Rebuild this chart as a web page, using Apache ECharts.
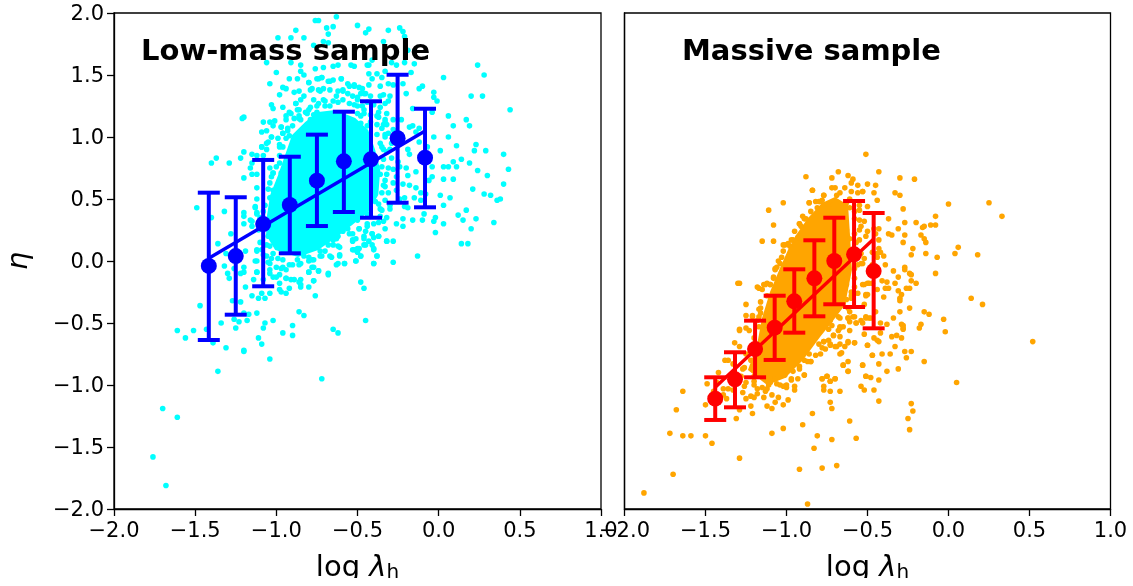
<!DOCTYPE html>
<html><head><meta charset="utf-8">
<script src="https://cdn.jsdelivr.net/npm/echarts@6/dist/echarts.min.js"></script>
<style>html,body{margin:0;padding:0;background:#fff}#c{width:1133px;height:578px}</style></head>
<body><div id="c"></div>
<script>
const lowMassPoints=[[-0.76,1.94],[-0.74,1.94],[-0.63,1.97],[-0.69,1.88],[-0.65,1.89],[-0.68,1.83],[-0.5,1.9],[-0.43,1.87],[-0.45,1.84],[-0.88,1.86],[-0.99,1.8],[-0.91,1.8],[-0.83,1.8],[-0.77,1.74],[-0.71,1.77],[-0.68,1.76],[-1.06,1.6],[-0.91,1.6],[-0.85,1.58],[-0.85,1.53],[-1,1.52],[-0.76,1.55],[-0.71,1.56],[-0.65,1.57],[-0.62,1.58],[-0.54,1.58],[-0.52,1.57],[-0.43,1.58],[-0.83,1.5],[-0.92,1.47],[-0.87,1.47],[-0.75,1.47],[-0.72,1.48],[-0.6,1.47],[-1.04,1.43],[-0.8,1.44],[-0.96,1.4],[-0.94,1.39],[-0.98,1.34],[-0.89,1.36],[-0.86,1.37],[-1.03,1.26],[-1.02,1.23],[-0.96,1.24],[-0.88,1.27],[-0.87,1.22],[-1.21,1.15],[-1.2,1.16],[-1.08,1.12],[-1.04,1.12],[-1.01,1.13],[-1.02,1.09],[-1.09,1.04],[-1.06,1.05],[-1.03,1],[-1.09,0.92],[-1.05,0.96],[-1.06,0.9],[-1.2,0.88],[-1.22,0.83],[-1.15,0.86],[-1.12,0.85],[-1.08,0.85],[-1.37,0.83],[-1.4,0.79],[-1.29,0.79],[-1.15,0.79],[-1.16,0.75],[-1.15,0.7],[-1.12,0.7],[-1.2,0.67],[-1.04,0.75],[-1.02,0.71],[-0.98,0.79],[-0.97,0.71],[-0.95,0.74],[-0.97,1.08],[-0.94,1.17],[-0.91,1.19],[-0.86,1.15],[-0.96,1.03],[-0.92,1.01],[-0.98,0.94],[-0.94,0.99],[-0.8,1.22],[-0.77,1.3],[-0.73,1.37],[-0.67,1.45],[-0.79,1.38],[-0.75,1.25],[-0.71,1.3],[-0.63,1.33],[-0.59,1.38],[-0.55,1.41],[-0.49,1.4],[-0.46,1.35],[-0.53,1.33],[-0.67,1.25],[-0.71,1.18],[-0.79,1.14],[-0.77,1.07],[-0.5,1.25],[-0.48,1.17],[-0.44,1.09],[-0.51,1.06],[-0.55,1.11],[-0.69,1.08],[-0.63,1.04],[-0.55,1],[-0.81,0.98],[-0.86,0.91],[-0.31,1.86],[-0.24,1.88],[-0.22,1.85],[-0.21,1.81],[-0.34,1.77],[-0.19,1.7],[-0.41,1.62],[-0.29,1.6],[-0.26,1.58],[-0.21,1.6],[-0.15,1.59],[-0.44,1.58],[-0.33,1.53],[0.24,1.58],[0.28,1.5],[0.03,1.48],[-0.17,1.52],[-0.43,1.51],[-0.38,1.51],[-0.41,1.47],[-0.35,1.48],[-0.31,1.43],[-0.28,1.42],[-0.43,1.42],[-0.36,1.41],[-0.22,1.43],[-0.12,1.39],[-0.1,1.41],[-0.2,1.35],[-0.03,1.36],[-0.03,1.32],[-0.01,1.29],[0.2,1.33],[0.27,1.33],[0.44,1.22],[-0.34,1.34],[-0.3,1.33],[-0.04,1.2],[-0.16,1.23],[0.06,1.17],[0.17,1.14],[0.19,1.09],[0.09,1.09],[-0.03,1],[0.06,1],[0.11,0.93],[0.23,0.94],[0.22,0.89],[0.29,0.89],[0.01,0.89],[0.4,0.86],[0.14,0.82],[0.09,0.8],[0.19,0.79],[0.03,0.76],[0.06,0.76],[0.11,0.76],[0.24,0.73],[0.43,0.74],[0.3,0.69],[-0.04,0.76],[-0.14,0.72],[-0.2,0.75],[-0.19,0.69],[-0.04,0.68],[0.03,0.66],[0.09,0.66],[-0.18,0.86],[-0.19,0.9],[-0.12,0.96],[-0.07,0.92],[-0.12,1.07],[-0.16,1.09],[-0.18,1.08],[-0.14,1.04],[-0.23,1.14],[-0.28,1.06],[-0.33,1.02],[-0.35,0.92],[-0.32,0.88],[-0.29,0.83],[-0.28,0.74],[-0.24,0.76],[-0.32,1.1],[-0.37,1.2],[-0.32,1.19],[-0.42,1.18],[-0.48,1.11],[-0.46,1.22],[-0.5,1.3],[-0.48,1.35],[-0.52,1.41],[-0.47,1.39],[-0.42,1.33],[-0.38,1.1],[-0.34,1.1],[-0.38,1.17],[-0.5,1.03],[-0.48,0.92],[-0.35,0.76],[0.4,0.62],[-0.06,0.65],[-0.14,0.59],[-0.18,0.61],[0.21,0.58],[0.28,0.54],[0.32,0.53],[0.36,0.49],[0.38,0.5],[0.01,0.53],[0.07,0.51],[-0.08,0.54],[-0.11,0.55],[-0.15,0.51],[-0.21,0.51],[-0.11,0.49],[0.03,0.45],[0.17,0.41],[0.12,0.37],[0.23,0.34],[0.15,0.33],[0.34,0.31],[0.03,0.3],[0.2,0.26],[-0.02,0.35],[-0.03,0.32],[-0.02,0.23],[0.14,0.14],[0.18,0.14],[-0.16,0.33],[-0.1,0.33],[-0.09,0.38],[-0.22,0.34],[-0.26,0.3],[-0.22,0.28],[-0.33,0.26],[-0.32,0.35],[-0.34,0.32],[-0.37,0.31],[-0.4,0.3],[-0.44,0.28],[-0.45,0.24],[-0.41,0.22],[-0.37,0.2],[-0.4,0.19],[-0.32,0.16],[-0.28,0.16],[-0.49,0.26],[-0.53,0.22],[-0.51,0.18],[-0.53,0.16],[-0.46,0.18],[-0.43,0.16],[-0.41,0.13],[-0.46,0.13],[-0.49,0.1],[-0.52,0.09],[-0.5,0.07],[-0.4,0.09],[-0.48,0.04],[-0.51,0],[-0.38,0.04],[-0.4,-0.02],[-0.28,-0.01],[-0.13,0.04],[-0.48,-0.17],[-0.46,-0.22],[-0.45,-0.48],[-0.35,0.41],[-0.3,0.42],[-0.19,0.43],[-0.21,0.44],[-0.26,0.57],[-0.28,0.63],[-0.34,0.61],[-0.31,0.55],[-0.33,0.49],[-0.39,0.48],[-0.48,0.44],[-0.44,0.38],[-1.12,0.59],[-1.49,0.43],[-1.4,0.35],[-1.32,0.4],[-1.2,0.39],[-1.2,0.36],[-1.2,0.3],[-1.12,0.5],[-1.13,0.43],[-1.12,0.39],[-1.16,0.33],[-1.15,0.28],[-1.11,0.25],[-1.28,0.22],[-1.36,0.14],[-1.19,0.08],[-1.31,0.06],[-1.12,0.08],[-1.09,0.09],[-1.13,0],[-1.32,-0.04],[-1.26,-0.06],[-1.2,-0.05],[-1.2,-0.09],[-1.3,-0.1],[-1.29,-0.14],[-1.22,-0.1],[-1.12,-0.09],[-1.14,-0.15],[-1.08,-0.15],[-1.19,-0.21],[-1.15,-0.28],[-1.11,-0.3],[-1.07,-0.3],[-1.09,-0.26],[-1.04,-0.26],[-1.27,-0.32],[-1.22,-0.33],[-1.47,-0.36],[-1.17,-0.43],[-1.12,-0.42],[-1.2,-0.42],[-1.26,-0.47],[-1.23,-0.49],[-1.18,-0.48],[-1.34,-0.5],[-1.25,-0.54],[-1.07,-0.5],[-1.08,-0.54],[-1.02,-0.48],[-0.9,-0.52],[-0.86,-0.41],[-0.83,-0.44],[-0.65,-0.55],[-0.62,-0.58],[-0.96,-0.58],[-0.9,-0.6],[-1.11,-0.62],[-1.09,-0.67],[-1.61,-0.56],[-1.56,-0.62],[-1.51,-0.56],[-1.43,-0.55],[-1.39,-0.66],[-1.31,-0.7],[-1.2,-0.72],[-0.98,-0.23],[-0.97,-0.25],[-0.94,-0.26],[-0.92,-0.22],[-0.86,-0.17],[-0.85,-0.19],[-0.85,-0.21],[-0.8,-0.21],[-0.76,-0.28],[-0.77,-0.16],[-0.68,-0.1],[-0.74,-0.08],[-0.8,-0.09],[-0.78,-0.05],[-0.8,0],[-0.77,0.01],[-0.86,-0.03],[-0.73,0.04],[-0.7,0.08],[-0.66,0.03],[-0.61,0.04],[-0.63,-0.03],[-0.58,-0.02],[-0.61,0.11],[-0.53,0.09],[-0.65,0.13],[-0.71,0.17],[-0.63,0.18],[-0.59,0.24],[-0.53,0.17],[-0.67,0.25],[-1.04,-0.07],[-1,-0.05],[-0.97,-0.06],[-0.94,-0.07],[-1.02,-0.13],[-0.98,-0.11],[-0.94,-0.14],[-0.89,-0.15],[-1.05,-0.01],[-0.96,0.01],[-0.9,-0.03],[-1.02,0.06],[-1.06,0.13],[-1.05,0.2],[-1.02,0.24],[-1.04,0.63],[-1.02,0.57],[-1.04,0.51],[-1.01,0.44],[-0.98,0.65],[-1.02,0.71],[-1.7,-1.19],[-1.61,-1.26],[-1.76,-1.58],[-1.68,-1.81],[-1.36,-0.89],[-0.72,-0.95],[-1.04,-0.79],[-1.2,-0.73],
[-0.83,1.33],[-0.85,1.3],[-0.8,1.44],[-0.78,1.39],[-0.74,1.47],[-0.72,1.48],[-0.74,1.38],[-0.71,1.39],[-0.68,1.45],[-0.65,1.46],[-0.6,1.47],[-0.56,1.43],[-0.52,1.42],[-0.67,1.38],[-0.62,1.37],[-0.59,1.37],[-0.56,1.35],[-0.5,1.32],[-0.45,1.35],[-0.88,1.27],[-0.86,1.22],[-0.92,1.2],[-0.79,1.24],[-0.74,1.27],[-0.7,1.29],[-0.65,1.29],[-0.59,1.3],[-0.52,1.26],[-0.81,1.19],[-0.77,1.18],[-0.89,1.15],[-0.94,1.14],[-0.85,1.14],[-0.97,1.08],[-0.96,1.03],[-0.99,0.99],[-0.93,1.07],[-1.03,1],[-1.06,0.95],[-1.09,0.92],[-0.98,0.92],[-0.5,1.19],[-0.46,1.19],[-0.36,1.24],[-0.33,1.27],[-0.37,1.16],[-0.33,1.14],[-0.35,1.07],[-0.31,1.03],[-0.59,0.25],[-0.55,0.22],[-0.49,0.26],[-0.44,0.3],[-0.46,0.2],[-0.41,0.22],[-0.37,0.2],[-0.32,0.16],[-0.4,0.1],[-0.45,0.13],[-0.5,0.1],[-0.48,0.04],[-0.38,0.04],[-0.4,-0.02],[-0.51,0],[-0.58,-0.02],[-0.62,-0.02],[-0.61,0.05],[-0.62,0.12],[-0.65,0.17],[-0.7,0.18],[-0.72,0.04],[-0.67,0.04],[-0.78,0.01],[-0.77,-0.05],[-0.8,-0.09],[-0.74,-0.08],[-0.68,-0.11],[-0.77,-0.16],[-0.85,-0.15],[-0.96,-0.05],[-1,-0.13],[-1.04,-0.02],[-0.94,-0.14],[-0.91,-0.15],[-0.87,0.01],[-0.83,0.04],[-1.13,0.44],[-1.12,0.38],[-1.15,0.32],[-1.12,0.09],[-1.12,0],[-1.12,-0.09],[-1.04,0.12],[-1.02,0.22],[-1.06,0.04],[-1.04,-0.1],[-0.98,-0.18],[-0.35,0.55],[-0.33,0.65],[-0.36,0.7],[-0.31,0.75],[-0.34,0.82],[-0.3,0.9],[-0.36,0.95],[-0.33,1],[-0.29,0.95],[-0.27,1],[-0.25,0.8],[-0.26,0.68],[-0.22,0.62],[-0.24,0.5],[-0.3,0.45],[-0.36,0.42],[-0.36,0.36],[-0.33,1.12],[-0.28,1.14],[-0.36,1.33],[-0.31,1.29],[-0.4,1.26],[-0.44,1.28],
[-1.08,0.4],[-1.1,0.35],[-1.09,0.3],[-1.07,0.45],[-1.05,0.58],[-1.03,0.68],[-1,0.76],[-0.98,0.85],[-0.96,0.92],[-0.93,1.05],[-0.9,1.09],[-0.86,1.17],[-0.82,1.2],[-1.1,0.15],[-1.08,0.05],[-1.03,0.02],[-0.99,0.02],[-0.92,-0.03],[-0.85,-0.02],[-0.8,0.03],[-0.73,0.08],[-0.68,0.13],[-0.62,0.2],[-0.56,0.26],[-0.5,0.33],[-0.42,0.36],[-0.37,0.46],[-0.33,0.6],[-0.32,0.7],[-0.34,0.9],[-0.38,1.02],[-0.42,1.12],[-0.47,1.25],[-0.55,1.27],[-0.62,1.28],[-0.7,1.25],[-0.75,1.2]];
const massivePoints=[[-0.51,0.86],[-0.88,0.68],[-0.68,0.72],[-0.72,0.67],[-0.62,0.69],[-0.59,0.66],[-0.6,0.63],[-0.56,0.61],[-0.5,0.62],[-0.72,0.59],[-0.7,0.59],[-0.64,0.59],[-0.6,0.56],[-0.67,0.55],[-0.84,0.57],[-0.77,0.53],[-0.56,0.55],[-0.53,0.56],[-0.78,0.49],[-0.82,0.48],[-0.86,0.47],[-1.02,0.47],[-1.11,0.41],[-1.08,0.29],[-1.15,0.16],[-1.08,0.16],[-0.92,0.3],[-0.91,0.28],[-0.88,0.34],[-0.81,0.43],[-0.74,0.45],[-0.71,0.45],[-0.63,0.47],[-0.55,0.45],[-0.55,0.33],[-0.52,0.32],[-0.55,0.25],[-0.63,0.25],[-0.61,0.18],[-0.51,0.2],[-0.54,0.06],[-0.54,-0.02],[-0.5,-0.18],[-0.52,-0.19],[-0.63,-0.09],[-0.66,-0.14],[-0.63,-0.15],[-0.63,-0.19],[-0.6,-0.25],[-0.56,-0.26],[-0.51,-0.27],[-0.63,-0.31],[-0.59,-0.45],[-0.62,-0.46],[-0.57,-0.5],[-0.51,-0.45],[-0.49,-0.46],[-0.54,-0.48],[-0.71,-0.42],[-0.68,-0.45],[-0.67,-0.53],[-0.73,-0.48],[-0.72,-0.52],[-1.02,0.13],[-0.98,0.12],[-0.96,0.17],[-0.93,0.19],[-1.04,-0.02],[-1.07,-0.06],[-1.08,-0.13],[-1.1,-0.19],[-1.14,-0.19],[-1.18,-0.21],[-1.15,-0.23],[-1.3,-0.18],[-1.25,-0.35],[-1.16,-0.33],[-1.17,-0.39],[-1.25,-0.44],[-1.21,-0.45],[-1.17,-0.45],[-1.29,-0.55],[-1.25,-0.54],[-1.29,-0.56],[-1.32,-0.66],[-1.29,-0.69],[-1.38,-0.8],[-1.36,-0.8],[-1.33,-0.83],[-1.42,-0.9],[-1.49,-0.99],[-1.64,-1.05],[-1.5,-1.16],[-1.68,-1.2],[-1.39,-1.03],[-1.36,-1.03],[-1.39,-1.08],[-1.37,-1.11],[-1.26,-1.01],[-1.25,-1.11],[-1.22,-1.09],[-1.2,-1.1],[-1.22,-1.17],[-1.21,-1.23],[-1.31,-1.27],[-1.29,-1.2],[-1.72,-1.39],[-1.64,-1.41],[-1.59,-1.41],[-1.5,-1.41],[-1.46,-1.47],[-1.29,-1.59],[-1.7,-1.72],[-1.88,-1.87],[-0.87,-1.96],[-0.92,-1.68],[-0.78,-1.67],[-0.69,-1.65],[-0.83,-1.51],[-0.72,-1.44],[-0.81,-1.41],[-0.57,-1.43],[-1.09,-1.39],[-1.02,-1.35],[-0.9,-1.32],[-0.61,-1.29],[-0.84,-1.23],[-0.72,-1.19],[-0.73,-1.14],[-1.12,-1.17],[-1.09,-1.19],[-1.02,-1.16],[-1.07,-1.14],[-1.05,-1.1],[-0.99,-1.12],[-1.14,-1.1],[-1.09,-1.08],[-1.18,-1.03],[-1.11,-1],[-1.06,-0.99],[-1.02,-1.01],[-1,-1.02],[-0.95,-1.04],[-1.07,-0.95],[-1.01,-0.92],[-0.97,-0.95],[-0.93,-0.95],[-0.89,-0.92],[-0.96,-0.89],[-0.78,-0.95],[-0.75,-0.93],[-0.73,-0.97],[-0.7,-0.95],[-0.77,-1.01],[-0.77,-1.04],[-0.73,-1.05],[-0.67,-1.05],[-0.54,-1.01],[-0.52,-1.04],[-0.46,-1.04],[-0.43,-1.13],[-0.51,-0.93],[-0.48,-0.94],[-0.38,-0.89],[-0.31,-0.87],[-0.62,-0.89],[-0.65,-0.84],[-0.62,-0.81],[-0.53,-0.84],[-0.43,-0.83],[-0.47,-0.76],[-0.41,-0.75],[-0.36,-0.75],[-0.26,-0.78],[-0.27,-0.73],[-0.23,-0.73],[-0.15,-0.81],[-0.33,-0.69],[-0.35,-0.61],[-0.32,-0.6],[-0.29,-0.62],[-0.28,-0.52],[-0.28,-0.55],[-0.17,-0.51],[-0.18,-0.54],[-0.23,-1.15],[-0.22,-1.21],[-0.25,-1.27],[-0.24,-1.36],[-0.42,-0.5],[-0.46,-0.62],[-0.43,-0.65],[-0.5,-0.68],[-0.52,-0.59],[-0.58,-0.66],[-0.62,-0.66],[-0.67,-0.67],[-0.64,-0.69],[-0.7,-0.69],[-0.67,-0.75],[-0.73,-0.67],[-0.77,-0.65],[-0.76,-0.71],[-0.71,-0.6],[-0.67,-0.54],[-0.61,-0.49],[-0.61,-0.56],[-0.79,-0.75],[-0.85,-0.81],[-0.89,-0.8],[-0.92,-0.85],[-0.43,0.72],[-0.3,0.67],[-0.21,0.66],[-0.45,0.61],[-0.53,0.56],[-0.46,0.55],[-0.33,0.55],[-0.3,0.53],[-0.44,0.49],[0,0.46],[0.25,0.47],[0.33,0.36],[-0.5,0.44],[-0.28,0.42],[-0.08,0.36],[-0.37,0.34],[-0.27,0.31],[-0.2,0.31],[-0.11,0.29],[-0.08,0.29],[-0.15,0.28],[-0.16,0.27],[-0.31,0.26],[-0.43,0.26],[-0.37,0.22],[-0.35,0.21],[-0.27,0.21],[-0.17,0.21],[-0.15,0.18],[-0.14,0.15],[-0.28,0.15],[-0.43,0.17],[-0.45,0.22],[0.06,0.11],[-0.22,0.1],[0.04,0.06],[0.18,0.05],[-0.23,0.05],[-0.14,0.06],[-0.07,0.03],[-0.43,0.1],[-0.4,0.04],[-0.42,0.07],[-0.47,0.07],[-0.44,0.03],[-0.53,-0.02],[-0.39,-0.03],[-0.27,-0.05],[-0.27,-0.07],[-0.34,-0.08],[-0.24,-0.1],[-0.23,-0.11],[-0.08,-0.1],[-0.31,-0.13],[-0.23,-0.16],[-0.2,-0.18],[-0.38,-0.17],[-0.41,-0.16],[-0.33,-0.18],[-0.49,-0.18],[-0.24,-0.22],[-0.26,-0.22],[-0.39,-0.22],[-0.37,-0.22],[-0.31,-0.24],[-0.44,-0.23],[-0.29,-0.27],[-0.51,-0.28],[-0.4,-0.29],[-0.3,-0.3],[-0.3,-0.32],[0.14,-0.3],[0.21,-0.35],[-0.52,-0.35],[-0.24,-0.38],[-0.3,-0.41],[-0.15,-0.41],[-0.12,-0.43],[-0.45,-0.41],[-0.34,-0.46],[-0.51,-0.46],[-0.48,-0.46],[-0.03,-0.47],[-0.53,-0.5],[-0.38,-0.51],[-0.29,-0.51],[-0.28,-0.54],[-0.02,-0.57],[0.52,-0.65],[0.05,-0.98],
[-0.84,0.57],[-0.77,0.53],[-0.8,0.48],[-0.86,0.47],[-0.92,0.3],[-0.89,0.34],[-0.97,0.17],[-1.01,0.13],[-1.02,0.08],[-1.05,0],[-1.07,-0.07],[-1.08,-0.14],[-1.13,-0.19],[-1.17,-0.22],[-1.1,-0.19],[-1.16,-0.38],[-1.18,-0.48],[-1.21,-0.44],[-1.23,-0.56],[-1.29,-0.18],[-0.61,0.43],[-0.55,0.41],[-0.58,0.34],[-0.54,0.28],[-0.58,0.22],[-0.5,0.24],[-0.55,0.17],[-0.46,0.26],[-0.44,0.06],[-0.52,0.02],[-0.47,-0.03],[-0.58,-0.06],[-0.63,-0.11],[-0.63,-0.15],[-0.53,-0.19],[-0.47,-0.18],[-0.58,-0.21],[-0.64,-0.23],[-0.5,-0.27],[-0.6,-0.3],[-0.65,-0.34],[-0.62,-0.46],[-0.57,-0.5],[-0.61,-0.41],[-0.58,-0.45],[-0.65,-0.53],[-0.68,-0.56],[-0.71,-0.6],[-0.67,-0.61],[-0.62,-0.65],[-0.58,-0.66],[-0.69,-0.69],[-0.66,-0.74],[-0.74,-0.64],[-0.73,-0.68],[-0.77,-0.65],[-0.78,-0.7],[-0.82,-0.76],[-0.87,-0.81],[-0.85,-0.81],[-0.89,-0.92],[-0.95,-1.01],[-1,-1],[-0.78,-0.95],[-0.75,-0.93],[-0.7,-0.95],[-0.73,-0.97],[-0.62,-0.89],[-0.65,-0.84],[-0.53,-0.84],[-0.51,-0.93],[-0.43,-0.96],[-0.47,-0.76],[-0.5,-0.68],[-0.44,-0.64],[-0.42,-0.58],[-1.25,-0.75],[-1.22,-0.8],[-1.27,-0.87],[-1.28,-0.93],[-1.25,-0.98],[-1.2,-1],[-1.15,-1.02],[-1.18,-1.07],[-1.13,-1.05],[-1.1,-0.98],[-1.3,-0.96],[-1.33,-1.04],[-1.43,-0.98],[-1.45,-1.05],[-1.32,-0.95],[-1.27,-1.06],[-1.2,-0.93],
[-1.2,-0.62],[-1.17,-0.53],[-1.16,-0.42],[-1.12,-0.28],[-1.12,-0.18],[-1.06,-0.05],[-1.03,0.03],[-0.99,0.14],[-0.95,0.24],[-0.9,0.36],[-0.85,0.4],[-0.79,0.48],[-0.69,0.53],[-0.61,0.5],[-0.58,0.4],[-0.57,0.15],[-0.56,-0.03],[-0.58,-0.14],[-0.6,-0.28],[-0.62,-0.38],[-0.67,-0.46],[-0.74,-0.55],[-0.8,-0.67],[-0.86,-0.75],[-0.92,-0.87],[-0.97,-0.96],[-1.04,-1],[-1.12,-1.03],[-1.2,-0.97],[-1.26,-0.86],[-1.22,-0.72]];
const lowMassCoreX=[-1.063,-1.007,-0.866,-0.742,-0.637,-0.533,-0.434,-0.372,-0.36,-0.391,-0.434,-0.514,-0.637,-0.742,-0.822,-0.903,-0.946,-0.989,-1.038,-1.057];
const lowMassCoreY=[0.21,0.089,0.032,0.089,0.185,0.29,0.395,0.532,0.734,0.895,1.056,1.153,1.218,1.202,1.121,1.016,0.855,0.694,0.532,0.371];
const massiveCoreX=[-1.238,-1.12,-1.009,-0.898,-0.793,-0.719,-0.639,-0.596,-0.608,-0.62,-0.701,-0.781,-0.867,-0.941,-0.991,-1.04,-1.102,-1.151,-1.182];
const massiveCoreY=[-0.879,-1,-0.944,-0.798,-0.613,-0.492,-0.355,-0.073,0.21,0.452,0.516,0.468,0.347,0.21,0.089,-0.056,-0.25,-0.46,-0.677];
const lowBinX=[-1.416,-1.25,-1.081,-0.917,-0.75,-0.584,-0.417,-0.253,-0.084];
const lowBinMean=[-0.04,0.04,0.298,0.452,0.648,0.804,0.82,0.99,0.833];
const lowBinTop=[0.551,0.514,0.815,0.841,1.019,1.204,1.288,1.502,1.228];
const lowBinBottom=[-0.637,-0.433,-0.204,0.062,0.282,0.395,0.349,0.47,0.433];
const lowFit=[[-1.416,0.022],[-0.084,1.048]];
const massBinX=[-1.44,-1.318,-1.194,-1.073,-0.952,-0.828,-0.705,-0.583,-0.462];
const massBinMean=[-1.11,-0.954,-0.71,-0.538,-0.325,-0.14,0,0.054,-0.081];
const massBinTop=[-0.938,-0.736,-0.481,-0.28,-0.067,0.167,0.349,0.484,0.387];
const massBinBottom=[-1.282,-1.18,-0.938,-0.798,-0.578,-0.446,-0.349,-0.371,-0.543];
const massFit=[[-1.44,-1.019],[-0.462,0.177]];
const F='"DejaVu Sans"';
const BLACK='#000';
const fmt=v=>(v<0?'\u2212':'')+Math.abs(v).toFixed(1);
function xAxis(i){return {gridIndex:i,type:'value',min:-2,max:1,interval:0.5,
  axisLine:{show:true,onZero:false,lineStyle:{color:BLACK,width:1.3}},
  axisTick:{show:true,length:7,lineStyle:{color:BLACK,width:1.3}},splitLine:{show:false},
  axisLabel:{fontFamily:F,fontSize:21,color:BLACK,margin:12,hideOverlap:false,showMinLabel:true,showMaxLabel:true,formatter:fmt},
  name:'{n|log }{l|\u03bb}{s|h}',nameLocation:'middle',nameGap:44,
  nameTextStyle:{rich:{n:{fontFamily:F,fontSize:29,color:BLACK},l:{fontFamily:F,fontStyle:'italic',fontSize:29,color:BLACK},s:{fontFamily:F,fontSize:20,color:BLACK,padding:[10,0,0,0]}}}};}
function yAxis(i){return {gridIndex:i,type:'value',min:-2,max:2,interval:0.5,
  axisLine:{show:true,onZero:false,lineStyle:{color:BLACK,width:1.3}},
  axisTick:{show:i===0,length:7,lineStyle:{color:BLACK,width:1.3}},splitLine:{show:false},
  axisLabel:{show:i===0,margin:10,showMinLabel:true,showMaxLabel:true,
    formatter:v=>'{a|'+fmt(v)+'}',rich:{a:{fontFamily:F,fontSize:21,color:BLACK,padding:[4,0,0,0]}}},
  name:i===0?'\u03b7':'',nameLocation:'middle',nameRotate:90,nameGap:80,
  nameTextStyle:{fontFamily:F,fontStyle:'italic',fontSize:29,color:BLACK}};}
function core(i,xs,ys,color){return {type:'custom',xAxisIndex:i,yAxisIndex:i,z:1,silent:true,data:xs.map((x,k)=>[x,ys[k]]),
  renderItem(p,api){if(p.dataIndex!==0)return null;
    return {type:'polygon',shape:{points:xs.map((x,k)=>api.coord([x,ys[k]]))},style:{fill:color}};}};}
function bars(i,xs,tops,bots,color){return {type:'custom',xAxisIndex:i,yAxisIndex:i,z:5,silent:true,
  data:xs.map((x,k)=>[x,tops[k],bots[k]]),clip:false,
  renderItem(p,api){const x=api.value(0),a=api.coord([x,api.value(1)]),b=api.coord([x,api.value(2)]);
    const st={stroke:color,lineWidth:4,fill:'none'};
    return {type:'group',children:[
      {type:'line',shape:{x1:a[0],y1:a[1],x2:b[0],y2:b[1]},style:st},
      {type:'line',shape:{x1:a[0]-11,y1:a[1],x2:a[0]+11,y2:a[1]},style:st},
      {type:'line',shape:{x1:b[0]-11,y1:b[1],x2:b[0]+11,y2:b[1]},style:st}]};}};}
function dots(i,d,color){return {type:'scatter',xAxisIndex:i,yAxisIndex:i,z:2,data:d,symbolSize:5.6,itemStyle:{color,opacity:1},silent:true};}
function fit(i,d,color){return {type:'line',xAxisIndex:i,yAxisIndex:i,z:4,data:d,showSymbol:false,lineStyle:{color,width:3.4},silent:true};}
function means(i,xs,ys,color){return {type:'scatter',xAxisIndex:i,yAxisIndex:i,z:6,data:xs.map((x,k)=>[x,ys[k]]),symbolSize:16,itemStyle:{color,opacity:1},silent:true};}
const chart=echarts.init(document.getElementById('c'),null,{renderer:'canvas'});
chart.setOption({animation:false,backgroundColor:'#fff',
  grid:[{left:114,top:13,width:487,height:496,outerBoundsMode:'none',show:true,borderColor:BLACK,borderWidth:1.3,backgroundColor:'transparent'},
        {left:624.5,top:13,width:486,height:496,outerBoundsMode:'none',show:true,borderColor:BLACK,borderWidth:1.3,backgroundColor:'transparent'}],
  xAxis:[xAxis(0),xAxis(1)],yAxis:[yAxis(0),yAxis(1)],
  title:[{text:'Low-mass sample',left:141,top:38,textStyle:{fontFamily:F,fontWeight:'bold',fontSize:29,color:BLACK},padding:0,z:10},
         {text:'Massive sample',left:682,top:38,textStyle:{fontFamily:F,fontWeight:'bold',fontSize:29,color:BLACK},padding:0,z:10}],
  series:[core(0,lowMassCoreX,lowMassCoreY,'#00ffff'),dots(0,lowMassPoints,'#00ffff'),
    fit(0,lowFit,'#0000ff'),bars(0,lowBinX,lowBinTop,lowBinBottom,'#0000ff'),means(0,lowBinX,lowBinMean,'#0000ff'),
    core(1,massiveCoreX,massiveCoreY,'#ffa500'),dots(1,massivePoints,'#ffa500'),
    fit(1,massFit,'#ff0000'),bars(1,massBinX,massBinTop,massBinBottom,'#ff0000'),means(1,massBinX,massBinMean,'#ff0000')]});
</script></body></html>
